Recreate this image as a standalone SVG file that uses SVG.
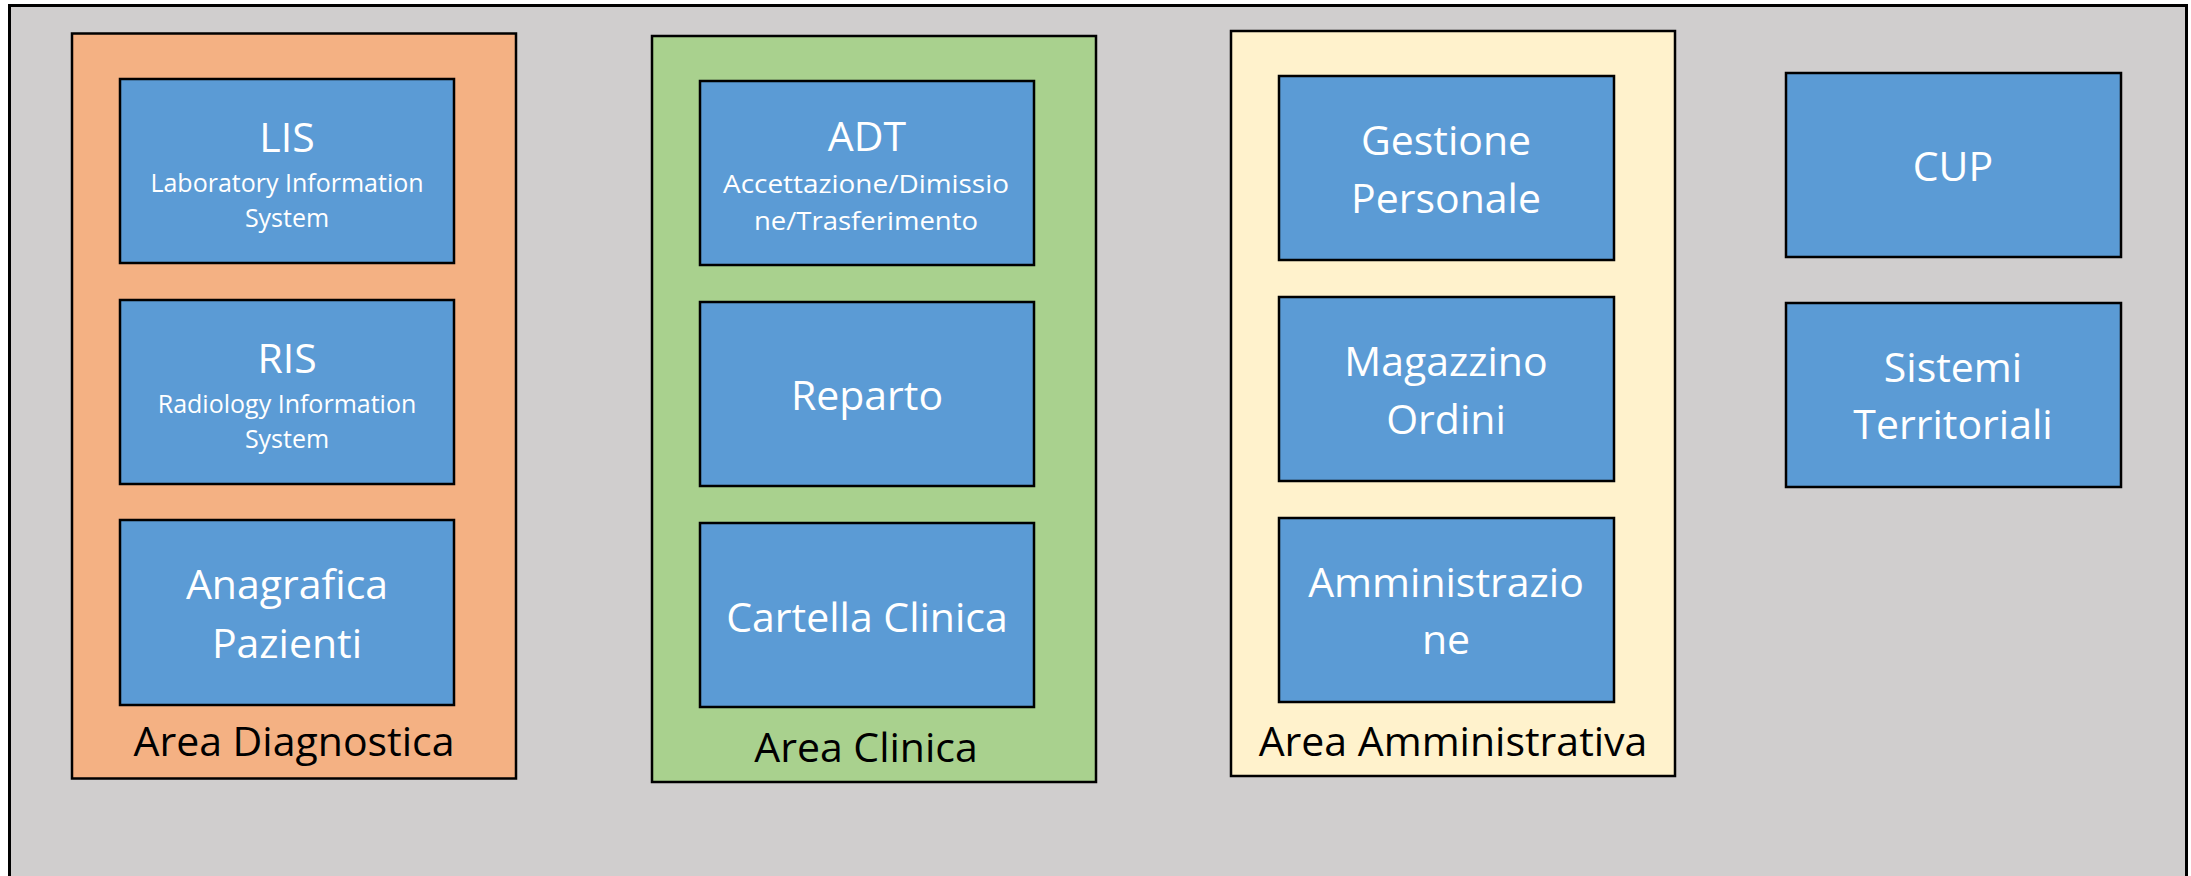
<svg xmlns="http://www.w3.org/2000/svg" width="2191" height="876" viewBox="0 0 2191 876">
<style>
.frame{fill:#D0CECE;stroke:#000;stroke-width:3}
.area{stroke:#000;stroke-width:2.5}
.diag{fill:#F4B183}
.clin{fill:#A9D18E}
.amm{fill:#FFF2CC}
.box{fill:#5B9BD5;stroke:#000;stroke-width:2.5}
.big{font-family:"Open Sans","Noto Sans","Liberation Sans",sans-serif;font-size:41px;fill:#fff;text-anchor:middle}
.small{font-family:"Open Sans","Noto Sans","Liberation Sans",sans-serif;font-size:25px;fill:#fff;text-anchor:middle}
.lbl{font-family:"Open Sans","Noto Sans","Liberation Sans",sans-serif;font-size:41px;fill:#000;text-anchor:middle}
</style>
<rect class="frame" x="9.5" y="5.5" width="2177" height="900"/>

<g id="area-diagnostica">
<rect class="area diag" x="72" y="33.5" width="444" height="745"/>
<text class="lbl" x="294" y="756">Area Diagnostica</text>
</g>
<g id="area-clinica">
<rect class="area clin" x="652" y="36" width="444" height="746"/>
<text class="lbl" x="866" y="762">Area Clinica</text>
</g>
<g id="area-amministrativa">
<rect class="area amm" x="1231" y="31" width="444" height="745"/>
<text class="lbl" x="1453" y="756">Area Amministrativa</text>
</g>

<g id="lis">
<rect class="box" x="120" y="79" width="334" height="184"/>
<text class="big" x="287" y="152">LIS</text>
<text class="small" x="287" y="192">Laboratory Information</text>
<text class="small" x="287" y="227">System</text>
</g>
<g id="ris">
<rect class="box" x="120" y="300" width="334" height="184"/>
<text class="big" x="287" y="373">RIS</text>
<text class="small" x="287" y="413">Radiology Information</text>
<text class="small" x="287" y="448">System</text>
</g>
<g id="anagrafica">
<rect class="box" x="120" y="520" width="334" height="185"/>
<text class="big" x="287" y="599">Anagrafica</text>
<text class="big" x="287" y="658">Pazienti</text>
</g>

<g id="adt">
<rect class="box" x="700" y="81" width="334" height="184"/>
<text class="big" x="867" y="151">ADT</text>
<text class="small" x="866" y="193" textLength="286" lengthAdjust="spacingAndGlyphs">Accettazione/Dimissio</text>
<text class="small" x="866" y="230" textLength="224" lengthAdjust="spacingAndGlyphs">ne/Trasferimento</text>
</g>
<g id="reparto">
<rect class="box" x="700" y="302" width="334" height="184"/>
<text class="big" x="867" y="410">Reparto</text>
</g>
<g id="cartella-clinica">
<rect class="box" x="700" y="523" width="334" height="184"/>
<text class="big" x="867" y="632">Cartella Clinica</text>
</g>

<g id="gestione-personale">
<rect class="box" x="1279" y="76" width="335" height="184"/>
<text class="big" x="1446" y="155">Gestione</text>
<text class="big" x="1446" y="213">Personale</text>
</g>
<g id="magazzino-ordini">
<rect class="box" x="1279" y="297" width="335" height="184"/>
<text class="big" x="1446" y="376">Magazzino</text>
<text class="big" x="1446" y="434">Ordini</text>
</g>
<g id="amministrazione">
<rect class="box" x="1279" y="518" width="335" height="184"/>
<text class="big" x="1446" y="597">Amministrazio</text>
<text class="big" x="1446" y="654">ne</text>
</g>

<g id="cup">
<rect class="box" x="1786" y="73" width="335" height="184"/>
<text class="big" x="1953" y="181">CUP</text>
</g>
<g id="sistemi-territoriali">
<rect class="box" x="1786" y="303" width="335" height="184"/>
<text class="big" x="1953" y="382">Sistemi</text>
<text class="big" x="1953" y="439">Territoriali</text>
</g>

<g id="connectors"/>
</svg>
